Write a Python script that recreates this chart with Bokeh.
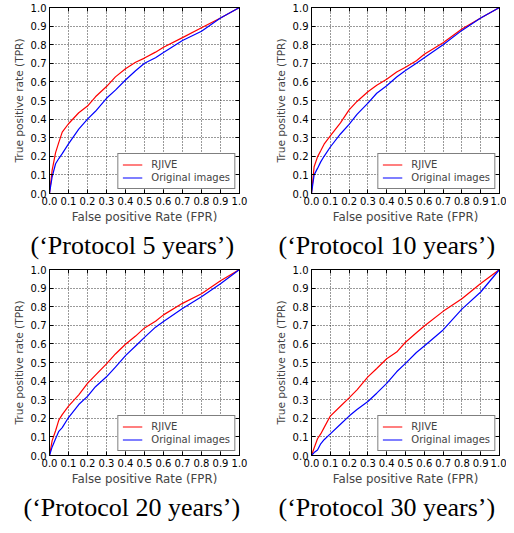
from bokeh.plotting import figure
from bokeh.models import (Range1d, FixedTicker, PrintfTickFormatter, LinearAxis,
                          Title, Legend, LegendItem)
from bokeh.layouts import column, row
from bokeh.embed import file_html
from bokeh.resources import INLINE

# ---------------- data ----------------
fpr = [0.0, 0.014, 0.032, 0.049, 0.067, 0.1, 0.154, 0.2, 0.242, 0.3, 0.347,
       0.4, 0.453, 0.5, 0.558, 0.6, 0.7, 0.8, 0.9, 1.0]

rjive_5 = [0.0, 0.126, 0.22, 0.275, 0.33, 0.375, 0.434, 0.47, 0.52, 0.575, 0.627,
           0.671, 0.706, 0.728, 0.76, 0.786, 0.838, 0.891, 0.944, 1.0]
orig_5 = [0.0, 0.09, 0.16, 0.188, 0.214, 0.267, 0.346, 0.40, 0.442, 0.512, 0.556,
          0.61, 0.66, 0.70, 0.73, 0.758, 0.823, 0.872, 0.944, 1.0]

rjive_10 = [0.0, 0.144, 0.197, 0.23, 0.265, 0.31, 0.38, 0.45, 0.495, 0.547, 0.582,
            0.614, 0.653, 0.679, 0.714, 0.749, 0.81, 0.884, 0.944, 1.0]
orig_10 = [0.0, 0.10, 0.135, 0.17, 0.20, 0.25, 0.32, 0.372, 0.425, 0.486, 0.539,
           0.579, 0.626, 0.661, 0.70, 0.73, 0.80, 0.877, 0.944, 1.0]

rjive_20 = [0.0, 0.08, 0.133, 0.19, 0.22, 0.265, 0.326, 0.388, 0.432, 0.493, 0.546,
            0.598, 0.642, 0.686, 0.722, 0.756, 0.818, 0.87, 0.94, 1.0]
orig_20 = [0.0, 0.046, 0.09, 0.13, 0.15, 0.204, 0.274, 0.318, 0.37, 0.423, 0.475,
           0.537, 0.589, 0.635, 0.69, 0.72, 0.79, 0.854, 0.923, 1.0]

rjive_30 = [0.0, 0.04, 0.09, 0.116, 0.15, 0.212, 0.265, 0.31, 0.353, 0.423, 0.468,
            0.52, 0.556, 0.609, 0.66, 0.696, 0.775, 0.843, 0.925, 1.0]
orig_30 = [0.0, 0.016, 0.03, 0.063, 0.085, 0.116, 0.168, 0.212, 0.247, 0.29, 0.335,
           0.388, 0.45, 0.495, 0.554, 0.589, 0.675, 0.787, 0.879, 1.0]

ticks = [0.0, 0.1, 0.2, 0.3, 0.4, 0.5, 0.6, 0.7, 0.8, 0.9, 1.0]
series_labels = ["RJIVE", "Original images"]
captions = ["(\u2018Protocol 5 years\u2019)", "(\u2018Protocol 10 years\u2019)",
            "(\u2018Protocol 20 years\u2019)", "(\u2018Protocol 30 years\u2019)"]
x_label = "False positive Rate (FPR)"
y_label = "True positive rate (TPR)"


def style_axis(ax, show_labels=True):
    ax.ticker = FixedTicker(ticks=ticks)
    ax.formatter = PrintfTickFormatter(format="%.1f")
    ax.major_tick_in = 4
    ax.major_tick_out = 0
    ax.minor_tick_in = 0
    ax.minor_tick_out = 0
    ax.axis_line_color = "black"
    ax.major_tick_line_color = "black"
    ax.major_label_text_font = "DejaVu Sans"
    if show_labels:
        ax.major_label_text_color = "black"
        ax.major_label_text_font_size = "10px"
        ax.major_label_standoff = 3
    else:
        ax.major_label_text_color = None
        ax.major_label_text_font_size = "1px"
        ax.major_label_standoff = 0


def make_panel(red, blue, caption, fw, fh, left, right, top, bottom, cap_offset):
    p = figure(frame_width=fw, frame_height=fh,
               x_range=Range1d(0, 1), y_range=Range1d(0, 1),
               output_backend="svg", toolbar_location=None,
               min_border_left=left, min_border_right=right,
               min_border_top=top, min_border_bottom=bottom)
    p.background_fill_color = "white"
    p.border_fill_color = "white"
    p.outline_line_color = "black"
    p.outline_line_width = 1

    for ax in p.xaxis:
        style_axis(ax)
        ax.axis_label = x_label
        ax.axis_label_text_font = "DejaVu Sans"
        ax.axis_label_text_font_size = "11.8px"
        ax.axis_label_text_font_style = "normal"
        ax.axis_label_standoff = 2
    for ax in p.yaxis:
        style_axis(ax)
        ax.axis_label = y_label
        ax.axis_label_text_font = "DejaVu Sans"
        ax.axis_label_text_font_size = "10.6px"
        ax.axis_label_text_font_style = "normal"
        ax.axis_label_standoff = 3

    ra = LinearAxis()
    style_axis(ra, show_labels=False)
    p.add_layout(ra, "right")
    ta = LinearAxis()
    style_axis(ta, show_labels=False)
    p.add_layout(ta, "above")

    for g in p.grid:
        g.ticker = FixedTicker(ticks=ticks)
        g.grid_line_color = "black"
        g.grid_line_alpha = 0.8
        g.grid_line_dash = "1 2"
        g.grid_line_width = 1

    r1 = p.line(fpr, red, line_color="#ff0000", line_width=1.2)
    r2 = p.line(fpr, blue, line_color="#0000ff", line_width=1.2)

    legend = Legend(items=[LegendItem(label=series_labels[0], renderers=[r1]),
                           LegendItem(label=series_labels[1], renderers=[r2])],
                    location="bottom_right")
    legend.label_text_font = "DejaVu Sans"
    legend.label_text_font_size = "10px"
    legend.glyph_width = 20
    legend.glyph_height = 13
    legend.label_height = 13
    legend.label_standoff = 9
    legend.padding = 4
    legend.spacing = 0
    legend.margin = 4
    legend.border_line_color = "black"
    legend.border_line_width = 1
    legend.background_fill_color = "white"
    legend.background_fill_alpha = 1.0
    p.add_layout(legend, "center")

    t = Title(text=caption, align="left", offset=cap_offset,
              text_font="Liberation Serif", text_font_size="26px",
              text_font_style="normal", text_color="black", standoff=4)
    p.add_layout(t, "below")
    return p


p1 = make_panel(rjive_5, orig_5, captions[0], 190, 186, 49, 18, 7, 67, -19)
p2 = make_panel(rjive_10, orig_10, captions[1], 188, 186, 54, 7, 7, 67, -33)
p3 = make_panel(rjive_20, orig_20, captions[2], 190, 186, 49, 18, 8, 64, -26)
p4 = make_panel(rjive_30, orig_30, captions[3], 188, 186, 54, 7, 8, 64, -33)

layout = column(row(p1, p2, spacing=0), row(p3, p4, spacing=0), spacing=0)

open("out.html", "w").write(file_html(layout, INLINE))
